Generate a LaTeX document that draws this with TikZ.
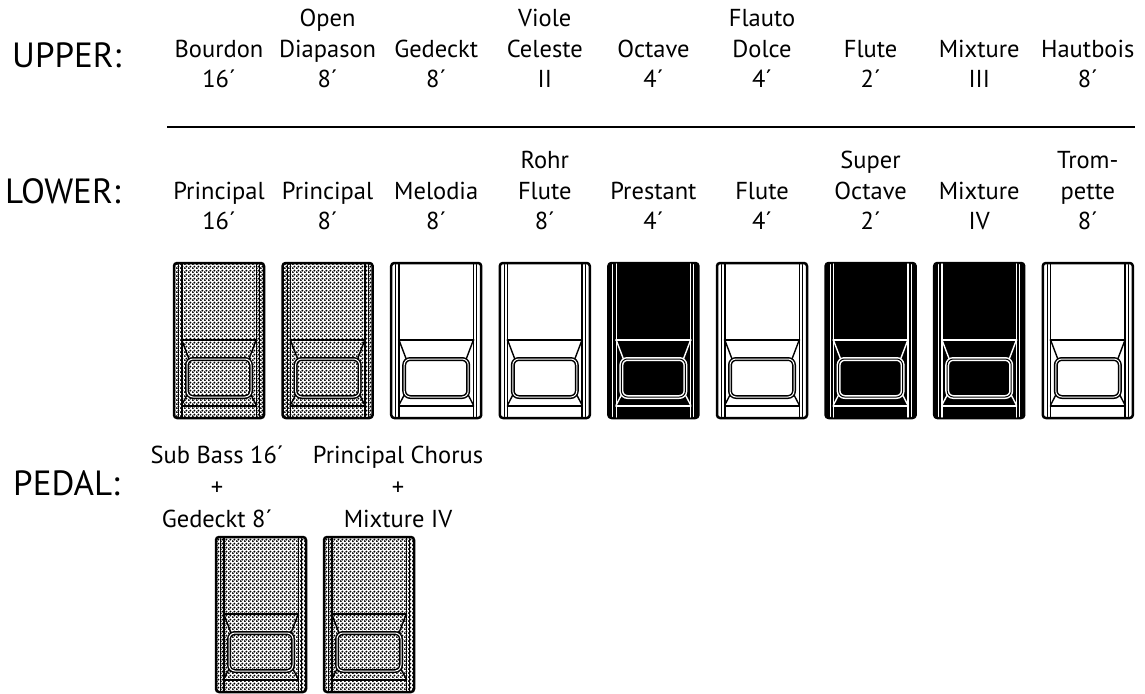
\documentclass[tikz,border=0pt]{standalone}
\usepackage{fontspec}
\setmainfont{PT Sans}
\usetikzlibrary{patterns}
\pgfdeclarepatternformonly{tabdots}{\pgfpointorigin}{\pgfqpoint{4pt}{4pt}}{\pgfqpoint{4pt}{4pt}}{%
  \pgfpathcircle{\pgfqpoint{1pt}{1pt}}{1.3pt}%
  \pgfpathcircle{\pgfqpoint{3pt}{3pt}}{1.3pt}%
  \pgfusepath{fill}}
\tikzset{
  stop label/.style={font=\fontsize{24.5}{30.5}\selectfont,align=center,inner sep=0pt,anchor=south},
  division/.style={font=\fontsize{35}{40}\selectfont,inner sep=0pt,anchor=base west},
  white tab/.style={tab fill/.style={fill=white},tab ink/.style={draw=black},tab gap/.style={double=white}},
  black tab/.style={tab fill/.style={fill=black},tab ink/.style={draw=white},tab gap/.style={double=black}},
  dotted tab/.style={tab fill/.style={fill=white,postaction={pattern=tabdots}},
    tab ink/.style={draw=black},tab gap/.style={double=white}},
}
% one stop tab, top left corner at (#1,#2)
\newcommand{\drawtab}[3]{%
  \begin{scope}[shift={({#1},{#2})},#3]
    \path[tab fill,draw=black,line width=2.5pt,rounded corners=3pt] (0,0) rectangle (90,155);
    \draw[tab ink,line width=1pt] (4.5,1.5) -- (4.5,153.5) (85.5,1.5) -- (85.5,153.5);
    \draw[tab ink,line width=1.4pt] (7.8,1) -- (7.8,154) (82.2,1) -- (82.2,154);
    \draw[tab ink,line width=2.4pt] (7.8,77) -- (82.2,77);
    \draw[tab ink,line width=1.4pt] (7.8,77) -- (15,96) (82.2,77) -- (75,96)
      (13.5,131) -- (7.8,142) (76.5,131) -- (82.2,142);
    \draw[tab ink,line width=2pt] (7.8,142.5) -- (82.2,142.5);
    \draw[tab ink,tab gap,line width=1.5pt,double distance=1pt,rounded corners=6pt]
      (13,96) rectangle (77,134);
  \end{scope}}

\begin{document}
\begin{tikzpicture}[x=1pt,y=-1pt,line cap=round,line join=round]
  \useasboundingbox (0,0) rectangle (1145,693);

  % division names
  \node[division] (upper) at (12,67) {UPPER:};
  \node[division] (lower) at (5,203) {LOWER:};
  \node[division] (pedal) at (13,495) {PEDAL:};

  % upper stops
  \foreach \txt [count=\i] in {{Bourdon\\16´},{Open\\Diapason\\8´},{Gedeckt\\8´},
      {Viole\\Celeste\\II},{Octave\\4´},{Flauto\\Dolce\\4´},{Flute\\2´},
      {Mixture\\III},{Hautbois\\8´}}
    \node[stop label] (upper-\i) at ({219+108.6*(\i-1)},88) {\txt};

  \coordinate (rule west) at (167,127);
  \coordinate (rule east) at (1135,127);
  \draw[line width=2.5pt,line cap=butt] (rule west) -- (rule east);

  % lower stops
  \foreach \txt [count=\i] in {{Principal\\16´},{Principal\\8´},{Melodia\\8´},
      {Rohr\\Flute\\8´},{Prestant\\4´},{Flute\\4´},{Super\\Octave\\2´},
      {Mixture\\IV},{Trom-\\pette\\8´}}
    \node[stop label] (lower-\i) at ({219+108.6*(\i-1)},230) {\txt};

  \foreach \kind [count=\i] in {dotted tab,dotted tab,white tab,white tab,black tab,
      white tab,black tab,black tab,white tab}
    \drawtab{174+108.6*(\i-1)}{263}{\kind};

  % pedal stops
  \node[stop label,font=\fontsize{24.5}{32}\selectfont] (pedal-1) at (217,528)
    {Sub Bass 16´\\+\\Gedeckt 8´};
  \node[stop label,font=\fontsize{24.5}{32}\selectfont] (pedal-2) at (398,528)
    {Principal Chorus\\+\\Mixture IV};
  \drawtab{216}{537}{dotted tab}
  \drawtab{324}{537}{dotted tab}
\end{tikzpicture}
\end{document}
